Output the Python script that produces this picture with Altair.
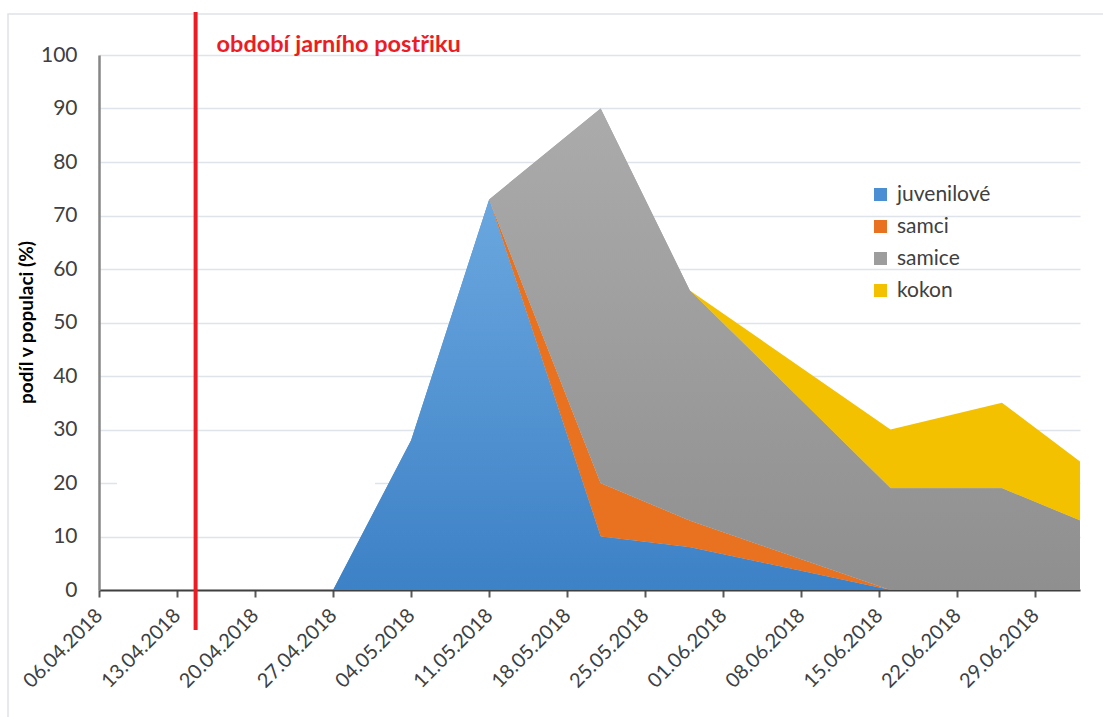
import altair as alt
import pandas as pd

# Sampling dates and the share (%) of each stage in the population
dates = ["2018-04-06", "2018-04-13", "2018-04-20", "2018-04-27", "2018-05-04",
         "2018-05-11", "2018-05-21", "2018-05-29", "2018-06-16", "2018-06-26",
         "2018-07-03"]
juvenilove = [0, 0, 0, 0, 28, 73, 10, 8, 0, 0, 0]
samci = [0, 0, 0, 0, 0, 0, 10, 5, 0, 0, 0]
samice = [0, 0, 0, 0, 0, 0, 70, 43, 19, 19, 13]
kokon = [0, 0, 0, 0, 0, 0, 0, 0, 11, 16, 11]

series_names = ["juvenilové", "samci", "samice", "kokon"]
series_colors = ["#4a8fd4", "#e8721f", "#9d9d9d", "#f4c100"]

# Weekly axis ticks
tick_dates = ["2018-04-06", "2018-04-13", "2018-04-20", "2018-04-27", "2018-05-04",
              "2018-05-11", "2018-05-18", "2018-05-25", "2018-06-01", "2018-06-08",
              "2018-06-15", "2018-06-22", "2018-06-29"]
x_start, x_end = "2018-04-06", "2018-07-03"

# Spring spraying marker
spray_date = ["2018-04-14T16:00:00Z"]
spray_label = "období jarního postřiku"

# Build the stacked bands (lo/hi) for each stage
values = [juvenilove, samci, samice, kokon]
rows = []
base_level = [0] * len(dates)
for name, vals in zip(series_names, values):
    n = len(vals)
    for i in range(n):
        prev_v = vals[i - 1] if i > 0 else 0
        next_v = vals[i + 1] if i < n - 1 else 0
        if vals[i] > 0 or prev_v > 0 or next_v > 0:
            rows.append({"date": dates[i], "series": name,
                         "lo": base_level[i], "hi": base_level[i] + vals[i]})
    base_level = [b + v for b, v in zip(base_level, vals)]
bands = pd.DataFrame(rows)


def to_dt(s):
    y, m, d = s.split("-")
    return alt.DateTime(year=int(y), month=int(m), date=int(d), utc=True)


FONT = "Lato"
x_scale = alt.Scale(type="utc", domain=[to_dt(x_start), to_dt(x_end)], nice=False)
y_scale = alt.Scale(domain=[0, 100], nice=False)

x_axis = alt.Axis(
    values=[to_dt(t) for t in tick_dates],
    labelExpr="utcFormat(datum.value, '%d.%m.%Y')",
    labelAngle=-45, labelAlign="right", labelBaseline="middle",
    labelFont=FONT, labelFontSize=20, labelColor="#404040", labelPadding=15,
    labelOverlap=False, labelFlush=False,
    domainColor="#404040", domainWidth=2,
    ticks=True, tickSize=7, tickColor="#595959", tickWidth=2,
    grid=False, title=None,
)
y_axis = alt.Axis(
    values=list(range(0, 101, 10)),
    labelFont=FONT, labelFontSize=21, labelColor="#404040", labelPadding=22,
    domainColor="#868686", domainWidth=2.5,
    ticks=False, grid=True, gridColor="#dfe3ea", gridWidth=1.5,
    title="podíl v populaci (%)", titleFont=FONT, titleFontSize=19,
    titleFontWeight="bold", titleColor="#000000", titleAngle=-90,
    titleX=-73, titleY=267, titleAlign="center", titleBaseline="middle",
)

dummy = pd.DataFrame({"k": [0]})

# Outer chart frame
frame = alt.Chart(dummy).mark_rect(fillOpacity=0, stroke="#dfe3e8", strokeWidth=1.5).encode(
    x=alt.value(-91), x2=alt.value(1100), y=alt.value(-41), y2=alt.value(700)
)

# Blank patch over part of the grid
patch = alt.Chart(dummy).mark_rect(color="white").encode(
    x=alt.value(18), x2=alt.value(276), y=alt.value(385), y2=alt.value(470)
)

areas = alt.Chart(bands).mark_area(interpolate="linear").encode(
    x=alt.X("date:T", scale=x_scale, axis=x_axis),
    y=alt.Y("hi:Q", stack=None, scale=y_scale, axis=y_axis),
    y2="lo:Q",
    color=alt.Color(
        "series:N",
        scale=alt.Scale(domain=series_names, range=series_colors),
        legend=alt.Legend(
            orient="none", legendX=771, legendY=129, title=None,
            symbolType="square", symbolSize=169, symbolStrokeWidth=0,
            labelFont=FONT, labelFontSize=21, labelColor="#404040",
            labelOffset=6, rowPadding=10,
        ),
    ),
)

blue_grad = alt.Gradient(
    gradient="linear", x1=0, x2=0, y1=0, y2=1,
    stops=[alt.GradientStop(color="#6aa7df", offset=0),
           alt.GradientStop(color="#3d81c6", offset=1)],
)
gray_grad = alt.Gradient(
    gradient="linear", x1=0, x2=0, y1=0, y2=1,
    stops=[alt.GradientStop(color="#ababab", offset=0),
           alt.GradientStop(color="#8f8f8f", offset=1)],
)

juv_shade = alt.Chart(bands).transform_filter(alt.datum.series == "juvenilové").mark_area(
    fill=blue_grad
).encode(x="date:T", y=alt.Y("hi:Q", stack=None), y2="lo:Q")

fem_shade = alt.Chart(bands).transform_filter(alt.datum.series == "samice").mark_area(
    fill=gray_grad
).encode(x="date:T", y=alt.Y("hi:Q", stack=None), y2="lo:Q")

spray_df = pd.DataFrame({"date": spray_date, "label": [spray_label]})
spray_rule = alt.Chart(spray_df).mark_rule(color="#ed1c24", strokeWidth=4).encode(
    x="date:T", y=alt.value(-43), y2=alt.value(575)
)
spray_text = alt.Chart(spray_df).mark_text(
    align="left", baseline="alphabetic", dx=21, font=FONT, fontWeight="bold",
    fontSize=23.5, color="#ed1c24"
).encode(x="date:T", y=alt.value(-3.5), text="label:N")

chart = alt.layer(
    frame, patch, areas, juv_shade, fem_shade, spray_rule, spray_text
).properties(
    width=981, height=535,
    autosize=alt.AutoSizeParams(type="none"),
    padding={"left": 99, "top": 55, "right": 23, "bottom": 127},
    background="white",
).configure_view(stroke=None)

chart.save("out.html", embed_options={"renderer": "svg", "actions": False})
